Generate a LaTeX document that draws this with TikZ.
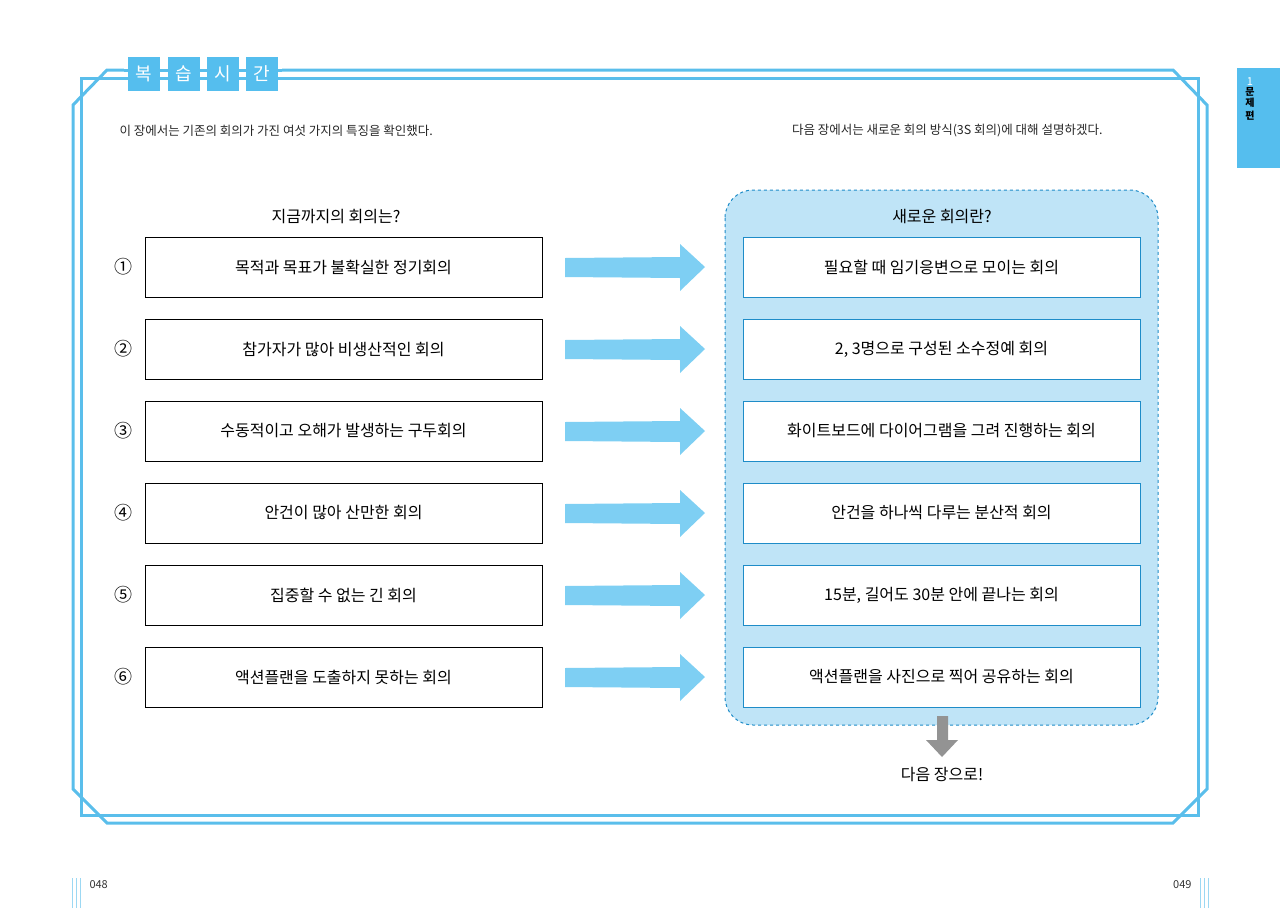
\documentclass[tikz,border=0pt]{standalone}
\usepackage{fontspec}
\setmainfont{Noto Sans CJK KR}
\newfontfamily\kr{Noto Sans CJK KR}
\usetikzlibrary{positioning}
\definecolor{frameblue}{RGB}{90,190,235}
\definecolor{arrowblue}{RGB}{126,207,243}
\definecolor{panelblue}{RGB}{191,228,247}
\definecolor{boxblue}{RGB}{30,140,200}
\definecolor{tabblue}{RGB}{85,190,238}
\tikzset{
  frame/.style={draw=frameblue,line width=3pt},
  oldbox/.style={draw=black,line width=0.9pt,fill=white,minimum width=397pt,minimum height=60pt,font=\fontsize{16}{18}\selectfont},
  newbox/.style={draw=boxblue,line width=1pt,fill=white,minimum width=397pt,minimum height=60pt,font=\fontsize{16}{18}\selectfont},
  numlabel/.style={font=\fontsize{18}{20}\selectfont},
  tabbox/.style={fill=tabblue,minimum width=32pt,minimum height=34pt,text=white,font=\fontsize{18}{20}\selectfont,inner sep=0pt},
  bigarrow/.style={fill=arrowblue,draw=none},
}
\begin{document}
\begin{tikzpicture}[x=1pt,y=-1pt]
\useasboundingbox (0,0) rectangle (1280,908);
% frames
\draw[frame] (107,70) -- (1173,70) -- (1207,105) -- (1207,789) -- (1173,823) -- (107,823) -- (73,789) -- (73,105) -- cycle;
\draw[frame] (81,78) rectangle (1198,815);
% title tabs
\fill[white] (124,54) rectangle (282,94);
\draw[frame] (124,70) -- (282,70);
\draw[frame] (124,78) -- (282,78);
\node[tabbox] (t1) at (144,74) {복};
\node[tabbox] (t2) at (184,74) {습};
\node[tabbox] (t3) at (223,74) {시};
\node[tabbox] (t4) at (262,74) {간};
% side tab
\fill[tabblue] (1237,68) rectangle (1280,168);
\node[text=white,font=\fontsize{11}{12}\selectfont] (sn) at (1250,82) {1};
\node[font=\fontsize{10}{12}\selectfont\bfseries,align=center,inner sep=0pt] (st) at (1250,104) {문\\[-1pt]제\\[1pt]편};
% intro texts
\node[anchor=west,font=\fontsize{12.5}{14}\selectfont,text=black!85] (introL) at (116,131) {이 장에서는 기존의 회의가 가진 여섯 가지의 특징을 확인했다.};
\node[anchor=east,font=\fontsize{12.5}{14}\selectfont,text=black!85] (introR) at (1106,131) {다음 장에서는 새로운 회의 방식(3S 회의)에 대해 설명하겠다.};
% panel
\draw[boxblue,dashed,line width=1pt,fill=panelblue,rounded corners=28pt] (725,190) rectangle (1158,725);
\node[font=\fontsize{16}{18}\selectfont] (hL) at (336,217) {지금까지의 회의는?};
\node[font=\fontsize{16}{18}\selectfont] (hR) at (942,217) {새로운 회의란?};
% rows
\foreach \i/\a/\b/\n in {
 0/목적과 목표가 불확실한 정기회의/필요할 때 임기응변으로 모이는 회의/①,
 1/참가자가 많아 비생산적인 회의/{2, 3명으로 구성된 소수정예 회의}/②,
 2/수동적이고 오해가 발생하는 구두회의/화이트보드에 다이어그램을 그려 진행하는 회의/③,
 3/안건이 많아 산만한 회의/안건을 하나씩 다루는 분산적 회의/④,
 4/집중할 수 없는 긴 회의/{15분, 길어도 30분 안에 끝나는 회의}/⑤,
 5/액션플랜을 도출하지 못하는 회의/액션플랜을 사진으로 찍어 공유하는 회의/⑥}{
  \pgfmathsetmacro\yy{267+82*\i}
  \node[numlabel] (n\i) at (123,\yy) {\n};
  \node[oldbox] (L\i) at (343.5,\yy) {\a};
  \node[newbox] (R\i) at (941.5,\yy) {\b};
  \fill[bigarrow] (565,\yy-9) -- (680,\yy-10) -- (680,\yy-23) -- (705,\yy) -- (680,\yy+24) -- (680,\yy+11) -- (565,\yy+10) -- cycle;
}
% gray arrow
\fill[gray!85] (937,716) -- (948,716) -- (948,740) -- (958,740) -- (942,757) -- (926,740) -- (937,740) -- cycle;
\node[font=\fontsize{16}{18}\selectfont] (next) at (942,775) {다음 장으로!};
% page numbers
\foreach \x in {72,76,80}{\draw[frameblue!60,line width=0.8pt] (\x,878) -- (\x,908);}
\node[anchor=west,font=\fontsize{11}{12}\selectfont,text=black!80] (p48) at (86,885) {048};
\foreach \x in {1200,1204,1208}{\draw[frameblue!60,line width=0.8pt] (\x,878) -- (\x,908);}
\node[anchor=east,font=\fontsize{11}{12}\selectfont,text=black!80] (p49) at (1195,885) {049};
\end{tikzpicture}
\end{document}
